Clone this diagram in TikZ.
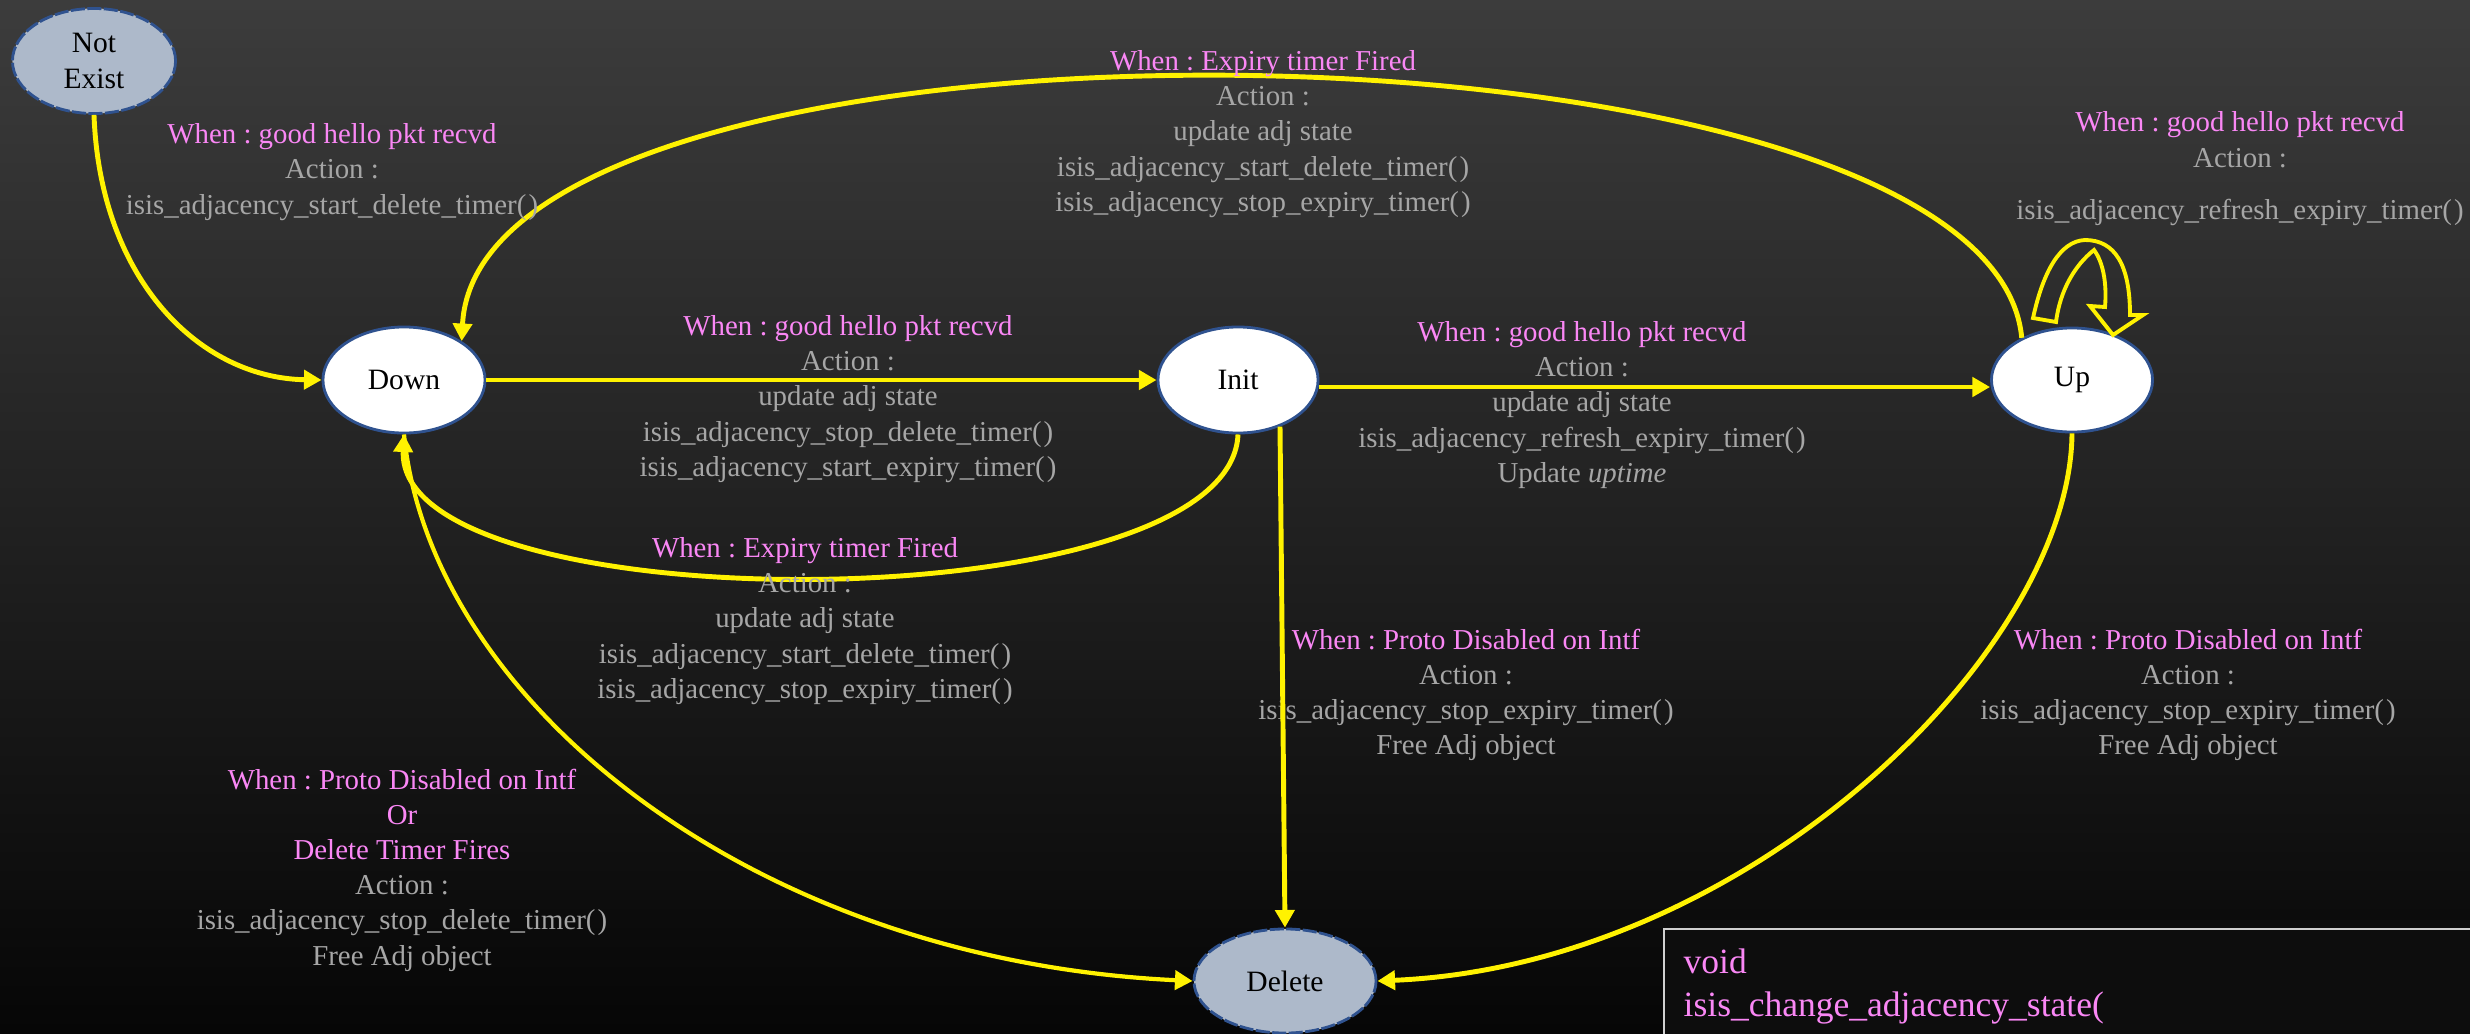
\documentclass[tikz,border=0pt]{standalone}
\usepackage{fontspec}
\setmainfont{Liberation Serif}
\usetikzlibrary{arrows.meta,shapes.geometric}

\definecolor{bgtop}{HTML}{3C3C3C}
\definecolor{bgbot}{HTML}{060606}
\definecolor{lblpink}{HTML}{FA87F5}
\definecolor{lblgray}{HTML}{A6A6A6}
\definecolor{nodeblue}{HTML}{2F528F}
\definecolor{greyfill}{HTML}{ADB9CA}
\definecolor{codefill}{HTML}{0D0D0D}
\definecolor{codeedge}{HTML}{D0D0D0}

\newcommand\whenline[1]{\textcolor{lblpink}{When : #1}}
\newcommand\fncall[1]{#1(\kern0.6pt)}

\tikzset{
  state/.style={ellipse, draw=nodeblue, line width=0.8pt, fill=white,
    inner sep=0pt, text=black, align=center,
    font=\fontsize{8.4}{10.5}\selectfont},
  ghost/.style={state, fill=greyfill, dash pattern=on 4pt off 0.7pt},
  edge/.style={draw=yellow, line width=1.4pt,
    -{Triangle[length=5pt,width=5.4pt]}},
  lbl/.style={align=center, inner sep=0pt, text=lblgray,
    font=\fontsize{8.2}{10}\selectfont},
}

\begin{document}
\frenchspacing
\begin{tikzpicture}[x=0.01cm, y=-0.01cm]
  % backdrop
  \shade[top color=bgtop, bottom color=bgbot] (0,0) rectangle (2470,1033);
  \useasboundingbox (0,0) rectangle (2470,1033);

  % states
  \node[ghost, minimum width=1.63cm, minimum height=1.05cm] (notexist) at (94,61) {Not\\Exist};
  \node[state, minimum width=1.62cm, minimum height=1.06cm] (down) at (404,380) {Down};
  \node[state, minimum width=1.60cm, minimum height=1.06cm] (init) at (1238,380) {Init};
  \node[state, minimum width=1.61cm, minimum height=1.04cm] (up) at (2072,380) {Up};
  \node[ghost, minimum width=1.82cm, minimum height=1.04cm] (delete) at (1285,981) {Delete};

  % transitions
  \draw[edge] (notexist.south) .. controls (100,280) and (200,378) .. (down.west);
  \draw[edge] (up.140) .. controls (1990,0) and (480,-20) .. (down.34);
  \draw[edge] (down.east) -- (init.west);
  \draw[edge] (init.south) .. controls (1230,625) and (395,625) .. (down.south);
  \draw[edge] ([yshift=-0.07cm]init.east) -- ([yshift=-0.07cm]up.west);
  \draw[edge] (up.south) .. controls (2070,650) and (1750,965) .. (delete.east);
  \draw[edge, line width=1.2pt] (down.south) .. controls (430,700) and (750,960) .. (delete.west);

  % self-loop on Up: hollow curved block arrow
  \draw[yellow, line width=1.1pt, line join=miter]
    (2033,318) .. controls (2043,272) and (2060,241) .. (2085,240)
    .. controls (2115,240) and (2130,265) .. (2130,315)
    -- (2143,315) -- (2113,335) -- (2090,306) -- (2105,307)
    .. controls (2107,283) and (2103,262) .. (2094,250)
    .. controls (2075,265) and (2060,290) .. (2056,322) -- cycle;

  % transition descriptions
  \node[lbl] (l1) at (332,172) {\whenline{good hello pkt recvd}\\Action :\\\fncall{isis\_adjacency\_start\_delete\_timer}};
  \node[lbl] (l2) at (1263,134) {\whenline{Expiry timer Fired}\\Action :\\update adj state\\\fncall{isis\_adjacency\_start\_delete\_timer}\\\fncall{isis\_adjacency\_stop\_expiry\_timer}};
  \node[lbl] (l3) at (2240,169) {\whenline{good hello pkt recvd}\\Action :\\[5pt]\fncall{isis\_adjacency\_refresh\_expiry\_timer}};
  \node[lbl] (l4) at (848,399) {\whenline{good hello pkt recvd}\\Action :\\update adj state\\\fncall{isis\_adjacency\_stop\_delete\_timer}\\\fncall{isis\_adjacency\_start\_expiry\_timer}};
  \node[lbl] (l5) at (805,621) {\whenline{Expiry timer Fired}\\Action :\\update adj state\\\fncall{isis\_adjacency\_start\_delete\_timer}\\\fncall{isis\_adjacency\_stop\_expiry\_timer}};
  \node[lbl] (l6) at (1582,405) {\whenline{good hello pkt recvd}\\Action :\\update adj state\\\fncall{isis\_adjacency\_refresh\_expiry\_timer}\\Update \textit{uptime}};
  \node[lbl] (l7) at (1466,695) {\whenline{Proto Disabled on Intf}\\Action :\\\fncall{isis\_adjacency\_stop\_expiry\_timer}\\Free Adj object};
  \node[lbl] (l8) at (2188,695) {\whenline{Proto Disabled on Intf}\\Action :\\\fncall{isis\_adjacency\_stop\_expiry\_timer}\\Free Adj object};
  \node[lbl] (l9) at (402,870) {\whenline{Proto Disabled on Intf}\\\textcolor{lblpink}{Or}\\\textcolor{lblpink}{Delete Timer Fires}\\Action :\\\fncall{isis\_adjacency\_stop\_delete\_timer}\\Free Adj object};

  % Init -> Delete runs over its own description
  \draw[edge] (init.-48) -- (delete.north);

  % function signature box
  \draw[draw=codeedge, fill=codefill, line width=0.6pt] (1664,929) rectangle (2490,1050);
  \node[anchor=north west, inner sep=0pt, align=left, text=lblpink,
        font=\fontsize{10.1}{12.4}\selectfont] (code) at (1683,948)
        {void\\isis\_change\_adjacency\_state(};
\end{tikzpicture}
\end{document}
